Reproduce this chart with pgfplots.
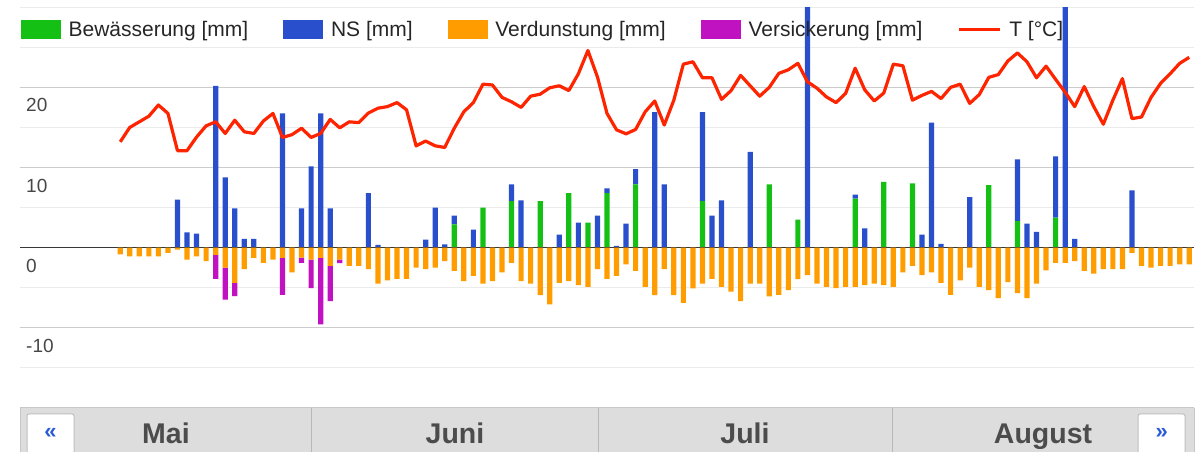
\documentclass[border=0pt]{standalone}
\usepackage{pgfplots}
\usepackage{pgfplotstable}
\pgfplotsset{compat=1.18}
\usepackage{fontspec}
\setmainfont{Liberation Sans}

\definecolor{bewgreen}{HTML}{14C014}
\definecolor{nsblue}{HTML}{2A4FCC}
\definecolor{verdorange}{HTML}{FF9C00}
\definecolor{verspurple}{HTML}{C012C0}
\definecolor{tred}{HTML}{FF2400}
\definecolor{navgray}{HTML}{DDDDDD}
\definecolor{navblue}{HTML}{2A5BD7}

% day 1 = 1 May
\pgfplotstableread{
d   bew   ns     verd   vers   t
11  0     0      -0.85  0      13.2
12  0     0      -1.1   0      15.0
13  0     0      -1.1   0      15.7
14  0     0      -1.1   0      16.4
15  0     0      -1.1   0      17.8
16  0     0      -0.65  0      16.75
17  0     6.0    -0.25  0      12.1
18  0     1.9    -1.5   0      12.1
19  0     1.75   -1.1   0      13.8
20  0     0      -1.7   0      15.2
21  0     20.2   -0.9   -3.0   15.7
22  0     8.75   -2.5   -4.0   14.25
23  0     4.9    -4.4   -1.65  15.9
24  0     1.1    -2.7   0      14.45
25  0     1.1    -1.3   0      14.25
26  0     0      -1.9   0      15.8
27  0     0      -1.5   0      16.75
28  0     16.75  -1.3   -4.6   13.75
29  0     0      -3.1   0      14.1
30  0     4.9    -1.25  -0.65  14.9
31  0     10.15  -1.5   -3.55  13.75
32  0     16.75  -1.3   -8.3   14.25
33  0     4.9    -2.3   -4.4   16.0
34  0     0      -1.5   -0.45  14.95
35  0     0      -2.3   0      15.7
36  0     0      -2.3   0      15.6
37  0     6.8    -2.7   0      16.8
38  0     0.35   -4.5   0      17.4
39  0     0      -4.1   0      17.6
40  0     0      -3.9   0      18.1
41  0     0      -3.9   0      17.2
42  0     0      -2.5   0      12.7
43  0     1.0    -2.7   0      13.3
44  0     5.0    -2.5   0      12.7
45  0     0.4    -1.7   0      12.5
46  2.9   1.1    -2.9   0      14.9
47  0     0      -4.2   0      16.95
48  0     2.25   -3.55  0      18.1
49  5.0   0      -4.5   0      20.4
50  0     0      -4.2   0      20.3
51  0     0      -3.1   0      18.75
52  5.8   2.1    -1.9   0      18.2
53  0     5.9    -4.2   0      17.5
54  0     0      -4.5   0      18.9
55  5.8   0      -5.95  0      19.15
56  0     0      -7.1   0      19.95
57  0     1.6    -4.4   0      20.2
58  6.8   0      -4.2   0      19.6
59  0     3.1    -4.7   0      21.7
60  3.1   0      -4.9   0      24.6
61  0     4.0    -2.7   0      21.3
62  6.8   0.6    -3.9   0      16.75
63  0     0.2    -3.55  0      14.7
64  0     3.0    -2.1   0      14.2
65  7.9   1.9    -2.9   0      14.75
66  0     0      -4.9   0      16.95
67  0     16.9   -5.95  0      18.3
68  0     7.9    -2.7   0      15.3
69  0     0      -5.95  0      18.4
70  0     0      -6.9   0      22.9
71  0     0      -5.1   0      23.2
72  5.8   11.1   -4.5   0      21.2
73  0     4.0    -3.9   0      21.2
74  0     5.9    -4.9   0      18.5
75  0     0      -5.5   0      19.6
76  0     0      -6.7   0      21.5
77  0     11.95  -4.5   0      20.2
78  0     0      -4.5   0      18.9
79  7.9   0      -6.1   0      20.0
80  0     0      -5.9   0      21.75
81  0     0      -5.3   0      22.2
82  3.5   0      -3.95  0      23.0
83  0     31     -3.45  0      20.7
84  0     0      -4.5   0      19.9
85  0     0      -4.9   0      18.8
86  0     0      -5.05  0      18.1
87  0     0      -4.9   0      19.25
88  6.1   0.5    -4.9   0      22.4
89  0     2.4    -4.7   0      19.7
90  0     0      -4.5   0      18.3
91  8.2   0      -4.7   0      19.3
92  0     0      -4.9   0      22.9
93  0     0      -3.1   0      22.7
94  8.0   0      -2.3   0      18.4
95  0     1.6    -3.45  0      19.0
96  0     15.6   -3.1   0      19.5
97  0     0.45   -4.4   0      18.6
98  0     0      -5.9   0      20.0
99  0     0      -4.1   0      20.4
100 0     6.3    -2.5   0      18.0
101 0     0      -4.9   0      19.1
102 7.8   0      -5.3   0      21.25
103 0     0      -6.3   0      21.6
104 0     0      -4.3   0      23.3
105 3.3   7.7    -5.7   0      24.3
106 0     3.0    -6.3   0      23.2
107 0     1.95   -4.5   0      21.2
108 0     0      -2.85  0      22.65
109 3.75  7.65   -1.9   0      21.0
110 0     31     -1.9   0      19.4
111 0     1.1    -1.7   0      17.6
112 0     0      -2.9   0      20.1
113 0     0      -3.25  0      17.6
114 0     0      -2.7   0      15.4
115 0     0      -2.7   0      18.4
116 0     0      -2.7   0      21.1
117 0     7.15   -0.65  0      16.1
118 0     0      -2.3   0      16.3
119 0     0      -2.5   0      18.75
120 0     0      -2.3   0      20.5
121 0     0      -2.3   0      21.7
122 0     0      -2.1   0      23.0
123 0     0      -2.1   0      23.75
}\wasser

\pgfplotsset{
  boxlegend/.style={legend image code/.code={\fill[##1] (0pt,-9.5pt) rectangle (40pt,9.5pt);}},
  linelegend/.style={legend image code/.code={\draw[##1] (0pt,0pt) -- (41pt,0pt);}},
  frame/.style={at={(20pt,84.3pt)}, anchor=south west, scale only axis,
    width=1174pt, height=360.4pt, xmin=0.5, xmax=123.5, ymin=-15, ymax=30},
}

\begin{document}
\begin{tikzpicture}[x=1pt,y=1pt]
\useasboundingbox (0,0) rectangle (1203,452);
\clip (0,0) rectangle (1203,452);

% positive stack + grid
\begin{axis}[frame,
  ybar stacked, bar width=5.2pt,
  axis line style={draw=none}, major tick length=0pt, minor tick length=0pt,
  xtick=\empty,
  ytick={-10,0,10,20}, yticklabels={-10,0,10,20},
  minor ytick={-15,-5,5,15,25,30},
  ymajorgrids, yminorgrids,
  major grid style={draw=black!20, line width=1pt},
  minor grid style={draw=black!8, line width=1pt},
  yticklabel style={anchor=west, inner sep=0pt, xshift=6pt, yshift=-18pt,
    font=\fontsize{19}{22}\selectfont, text=black!72},
]
\addplot[fill=bewgreen, draw=none] table[x=d, y=bew] {\wasser};
\addplot[fill=nsblue, draw=none] table[x=d, y=ns] {\wasser};
\end{axis}

% negative stack, temperature, legend
\begin{axis}[frame, hide axis,
  ybar stacked, bar width=5.2pt,
  legend columns=5, legend cell align=left,
  legend style={at={(0,1)}, anchor=west, xshift=0.7pt, yshift=-22.4pt,
    draw=none, fill=none, inner sep=0pt,
    font=\fontsize{21}{24}\selectfont, text=black!85,
    nodes={inner sep=0pt},
    /tikz/every odd column/.append style={column sep=7.7pt},
    /tikz/every even column/.append style={column sep=35pt}},
]
\addlegendimage{boxlegend, fill=bewgreen, draw=none}
\addlegendentry{Bewässerung [mm]}
\addlegendimage{boxlegend, fill=nsblue, draw=none}
\addlegendentry{NS [mm]}
\addplot[boxlegend, fill=verdorange, draw=none] table[x=d, y=verd] {\wasser};
\addlegendentry{Verdunstung [mm]}
\addplot[boxlegend, fill=verspurple, draw=none] table[x=d, y=vers] {\wasser};
\addlegendentry{Versickerung [mm]}
\addplot[forget plot, sharp plot, stack plots=false, draw=black!78, line width=1.4pt, mark=none]
  coordinates {(0.5,0) (123.5,0)};
\addplot[linelegend, sharp plot, stack plots=false, draw=tred, line width=3.2pt,
  line join=round, mark=none] table[x=d, y=t] {\wasser};
\addlegendentry{T [°C]}
\end{axis}

% month navigation bar
\fill[navgray] (20,0) rectangle (1194,44.3);
\draw[black!22, line width=1.2pt] (20,44.3) -- (1194,44.3);
\draw[black!22, line width=1pt] (20,0) -- (20,44.3) (1194,0) -- (1194,44.3);
\foreach \xx in {311.7,598,892.7} \draw[black!28, line width=1pt] (\xx,0) -- (\xx,44.3);
\begin{scope}[every node/.style={font=\bfseries\fontsize{28.5}{32}\selectfont, text=black!70, anchor=base}]
\node at (166,8.7) {Mai};
\node at (455,8.7) {Juni};
\node at (745,8.7) {Juli};
\node at (1043,8.7) {August};
\end{scope}
\draw[fill=white, draw=black!25, line width=1pt, rounded corners=2pt] (27,-6) rectangle (74,38);
\draw[fill=white, draw=black!25, line width=1pt, rounded corners=2pt] (1138,-6) rectangle (1185,38);
\node[font=\bfseries\fontsize{22}{24}\selectfont, text=navblue] at (50.5,18.5) {«};
\node[font=\bfseries\fontsize{22}{24}\selectfont, text=navblue] at (1161.7,18.5) {»};
\end{tikzpicture}
\end{document}
